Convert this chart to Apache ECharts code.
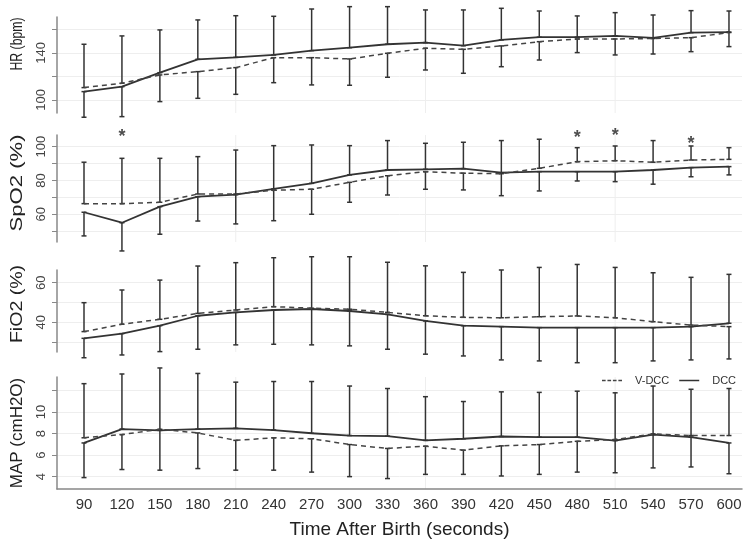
<!DOCTYPE html>
<html>
<head>
<meta charset="utf-8">
<title>DCC vs V-DCC</title>
<script src="https://cdn.jsdelivr.net/npm/echarts@6/dist/echarts.min.js"></script>
<style>
  html, body { margin: 0; padding: 0; background: #fff; }
  #chart { width: 750px; height: 540px; }
</style>
</head>
<body>
<div id="chart"></div>
<script>
// time after birth (s)
var times = [90, 120, 150, 180, 210, 240, 270, 300, 330, 360, 390, 420, 450, 480, 510, 540, 570, 600];

// HR (bpm): mean and SD per group
var hrDcc    = [107.1, 111.3, 123.2, 134.6, 136.3, 138.3, 142.0, 144.5, 147.4, 148.8, 146.2, 151.1, 153.4, 153.4, 154.5, 152.8, 157.3, 157.8];
var hrDccSd  = [21.8, 25.5, 36.4, 33.5, 35.4, 32.9, 35.4, 34.9, 32.0, 27.8, 30.4, 26.9, 22.3, 18.1, 19.8, 19.5, 18.7, 17.9];
var hrVdcc   = [110.5, 114.2, 121.3, 124.1, 127.5, 136.0, 136.0, 134.9, 139.7, 144.0, 143.1, 146.0, 149.6, 151.9, 151.9, 152.3, 153.0, 157.4];
var hrVdccSd = [36.9, 40.3, 22.7, 22.7, 22.7, 21.3, 23.2, 22.4, 20.4, 18.5, 20.4, 17.7, 15.6, 11.6, 13.6, 13.2, 11.9, 12.0];

// SpO2 (%)
var spDcc    = [61.2, 55.0, 64.5, 70.4, 71.6, 75.0, 78.3, 83.3, 86.2, 86.6, 87.0, 84.6, 85.2, 85.2, 85.2, 86.2, 87.6, 88.2];
var spDccSd  = [14.0, 16.7, 16.3, 14.4, 17.3, 25.6, 22.7, 17.3, 17.4, 15.4, 15.6, 19.0, 11.4, 5.5, 5.9, 8.4, 5.4, 4.9];
var spVdcc   = [66.3, 66.3, 67.1, 72.0, 72.0, 74.2, 74.8, 78.9, 82.8, 85.2, 84.3, 84.0, 87.2, 91.1, 91.7, 90.8, 92.1, 92.5];
var spVdccSd = [24.5, 26.8, 26.0, 22.1, 26.0, 18.0, 14.8, 11.8, 11.4, 10.4, 9.9, 13.0, 17.2, 8.3, 8.7, 12.8, 8.3, 6.9];

// FiO2 (%)
var fiDcc    = [31.9, 34.3, 38.3, 43.3, 45.0, 46.2, 46.7, 45.7, 44.0, 40.7, 38.3, 37.8, 37.3, 37.3, 37.3, 37.3, 37.8, 39.5];
var fiDccSd  = [9.8, 10.8, 13.1, 16.9, 16.4, 17.3, 18.1, 17.6, 17.6, 16.8, 15.3, 16.8, 16.8, 17.7, 17.7, 16.8, 16.8, 24.7];
var fiVdcc   = [35.3, 39.0, 41.5, 44.5, 46.2, 47.9, 47.1, 46.6, 45.0, 43.3, 42.5, 42.3, 42.8, 43.2, 42.3, 40.3, 38.6, 37.8];
var fiVdccSd = [14.6, 17.3, 19.8, 23.9, 23.9, 24.7, 26.0, 26.5, 25.3, 25.2, 22.7, 24.1, 24.9, 26.0, 25.4, 24.7, 24.1, 16.3];

// MAP (cmH2O)
var mapDcc    = [7.13, 8.42, 8.30, 8.42, 8.49, 8.33, 8.03, 7.82, 7.76, 7.37, 7.52, 7.73, 7.67, 7.67, 7.35, 7.91, 7.67, 7.13];
var mapDccSd  = [3.22, 5.12, 3.70, 5.17, 4.29, 4.51, 4.81, 4.60, 4.43, 4.06, 3.46, 4.15, 4.16, 4.27, 2.99, 3.10, 2.77, 2.86];
var mapVdcc   = [7.61, 7.91, 8.40, 8.06, 7.37, 7.61, 7.52, 6.98, 6.62, 6.83, 6.46, 6.86, 6.98, 7.28, 7.45, 7.97, 7.82, 7.82];
var mapVdccSd = [5.03, 3.25, 5.70, 3.31, 2.77, 3.01, 3.10, 2.98, 2.80, 2.62, 2.25, 2.80, 2.77, 2.86, 4.34, 4.45, 4.30, 4.37];

// significant differences (SpO2 panel)
var starTimes = [120, 480, 510, 570];
var starY     = [108.0, 107.4, 108.4, 104.0];

// tick marks / tick labels
var hrTicks  = [100, 120, 140, 160];      var hrLabels  = [100, 140];
var spTicks  = [50, 60, 70, 80, 90, 100]; var spLabels  = [60, 80, 100];
var fiTicks  = [30, 40, 50, 60];          var fiLabels  = [40, 60];
var mapTicks = [4, 6, 8, 10, 12];         var mapLabels = [4, 6, 8, 10];
var vGrid = [210, 360, 510];

var panels = [
  { name: 'HR (bpm)', dcc: hrDcc, dccSd: hrDccSd, vdcc: hrVdcc, vdccSd: hrVdccSd, ticks: hrTicks, labels: hrLabels,
    top: 17, height: 96, min: 88.9, max: 170.6, nameY: 44, nameScale: 0.72 },
  { name: 'SpO2 (%)', dcc: spDcc, dccSd: spDccSd, vdcc: spVdcc, vdccSd: spVdccSd, ticks: spTicks, labels: spLabels,
    top: 135, height: 107, min: 43.6, max: 106.9, nameY: 183, nameScale: 1.3 },
  { name: 'FiO2 (%)', dcc: fiDcc, dccSd: fiDccSd, vdcc: fiVdcc, vdccSd: fiVdccSd, ticks: fiTicks, labels: fiLabels,
    top: 270, height: 82, min: 25.0, max: 66.4, nameY: 304, nameScale: 1.15 },
  { name: 'MAP (cmH2O)', dcc: mapDcc, dccSd: mapDccSd, vdcc: mapVdcc, vdccSd: mapVdccSd, ticks: mapTicks, labels: mapLabels,
    top: 377, height: 115, min: 2.85, max: 13.26, nameY: 433, nameScale: 1.0 }
];

var lineColor = '#333';

// error bars: the higher group's bar goes up, the lower group's bar goes down
function renderErrorBar(params, api) {
  var t = api.value(0);
  var d = api.value(1), ds = api.value(2), v = api.value(3), vs = api.value(4);
  var segs = d >= v ? [[d, d + ds], [v, v - vs]] : [[v, v + vs], [d, d - ds]];
  var style = { stroke: lineColor, lineWidth: 1.5 };
  var children = [];
  segs.forEach(function (s) {
    var a = api.coord([t, s[0]]);
    var b = api.coord([t, s[1]]);
    children.push({ type: 'line', shape: { x1: a[0], y1: a[1], x2: b[0], y2: b[1] }, style: style });
    children.push({ type: 'line', shape: { x1: a[0] - 2.5, y1: a[1], x2: a[0] + 2.5, y2: a[1] }, style: style });
    children.push({ type: 'line', shape: { x1: b[0] - 2.5, y1: b[1], x2: b[0] + 2.5, y2: b[1] }, style: style });
  });
  return { type: 'group', children: children };
}

// faint vertical grid line across the whole panel
function renderVGrid(params, api) {
  var cs = params.coordSys;
  var x = api.coord([api.value(0), 0])[0];
  return {
    type: 'line',
    shape: { x1: x, y1: cs.y, x2: x, y2: cs.y + cs.height },
    style: { stroke: '#eeeeee', lineWidth: 1 }
  };
}

var grids = [], xAxes = [], yAxes = [], series = [], graphics = [];

panels.forEach(function (p, i) {
  var last = i === panels.length - 1;
  grids.push({ left: 57, right: 8, top: p.top, height: p.height });
  xAxes.push({
    type: 'value', gridIndex: i, min: 68.65, max: 610.3,
    axisLine: { show: last, lineStyle: { color: '#888', width: 1.5 } },
    axisTick: { show: false, customValues: times },
    axisLabel: { show: last, customValues: times, color: '#333', fontSize: 15, margin: 8 },
    splitLine: { show: false },
    name: last ? 'Time After Birth (seconds)' : '',
    nameLocation: 'middle', nameGap: 31,
    nameTextStyle: { fontSize: 19, color: '#222' }
  });
  yAxes.push({
    type: 'value', gridIndex: i, min: p.min, max: p.max,
    axisLine: { show: true, lineStyle: { color: '#888', width: 1.5 } },
    axisTick: { show: true, length: 5, customValues: p.ticks, lineStyle: { color: '#888' } },
    axisLabel: { customValues: p.labels, rotate: 90, color: '#444', fontSize: 13, margin: 9 },
    splitLine: { show: true, lineStyle: { color: '#eeeeee', width: 1 } }
  });
  series.push({
    type: 'custom', xAxisIndex: i, yAxisIndex: i, silent: true, z: 0,
    renderItem: renderVGrid,
    encode: { x: 0 },
    data: vGrid.map(function (v) { return [v]; })
  });
  series.push({
    name: 'DCC', type: 'line', xAxisIndex: i, yAxisIndex: i, symbol: 'none',
    lineStyle: { color: lineColor, width: 1.8 },
    itemStyle: { color: lineColor },
    data: times.map(function (t, k) { return [t, p.dcc[k]]; })
  });
  series.push({
    name: 'V-DCC', type: 'line', xAxisIndex: i, yAxisIndex: i, symbol: 'none',
    lineStyle: { color: '#444', width: 1.5, type: [5, 4] },
    itemStyle: { color: '#444' },
    data: times.map(function (t, k) { return [t, p.vdcc[k]]; })
  });
  series.push({
    type: 'custom', xAxisIndex: i, yAxisIndex: i, silent: true, z: 3,
    renderItem: renderErrorBar,
    encode: { x: 0, y: [1, 3] },
    data: times.map(function (t, k) { return [t, p.dcc[k], p.dccSd[k], p.vdcc[k], p.vdccSd[k]]; })
  });
  // rotated y axis title
  graphics.push({
    type: 'text', x: 17, y: p.nameY, rotation: Math.PI / 2, scaleX: p.nameScale,
    style: {
      text: p.name, fontSize: 17, fontFamily: 'Liberation Sans', fill: '#222',
      align: 'center', verticalAlign: 'middle', textAlign: 'center', textVerticalAlign: 'middle'
    }
  });
});

// asterisks on SpO2
series.push({
  type: 'scatter', xAxisIndex: 1, yAxisIndex: 1, symbolSize: 1, silent: true, clip: false,
  itemStyle: { color: 'rgba(0,0,0,0)' },
  label: { show: true, position: 'inside', formatter: '*', fontSize: 18, fontWeight: 'bold', color: '#222', offset: [0, 4] },
  data: starTimes.map(function (t, k) { return [t, starY[k]]; })
});

var myChart = echarts.init(document.getElementById('chart'));
myChart.setOption({
  animation: false,
  backgroundColor: '#fff',
  textStyle: { fontFamily: 'Liberation Sans, Arial, sans-serif' },
  legend: {
    data: [
      { name: 'V-DCC', icon: 'path://M0,0H4V1H0Z M6,0H10V1H6Z M12,0H16V1H12Z M18,0H22V1H18Z' },
      { name: 'DCC', icon: 'path://M0,0H22V1H0Z' }
    ],
    left: 597, top: 370,
    itemWidth: 20, itemHeight: 1.5, itemGap: 10, symbolKeepAspect: false,
    textStyle: { fontSize: 11, color: '#333', padding: [0, 0, 0, 8] }
  },
  grid: grids,
  xAxis: xAxes,
  yAxis: yAxes,
  series: series,
  graphic: graphics
});
</script>
</body>
</html>
